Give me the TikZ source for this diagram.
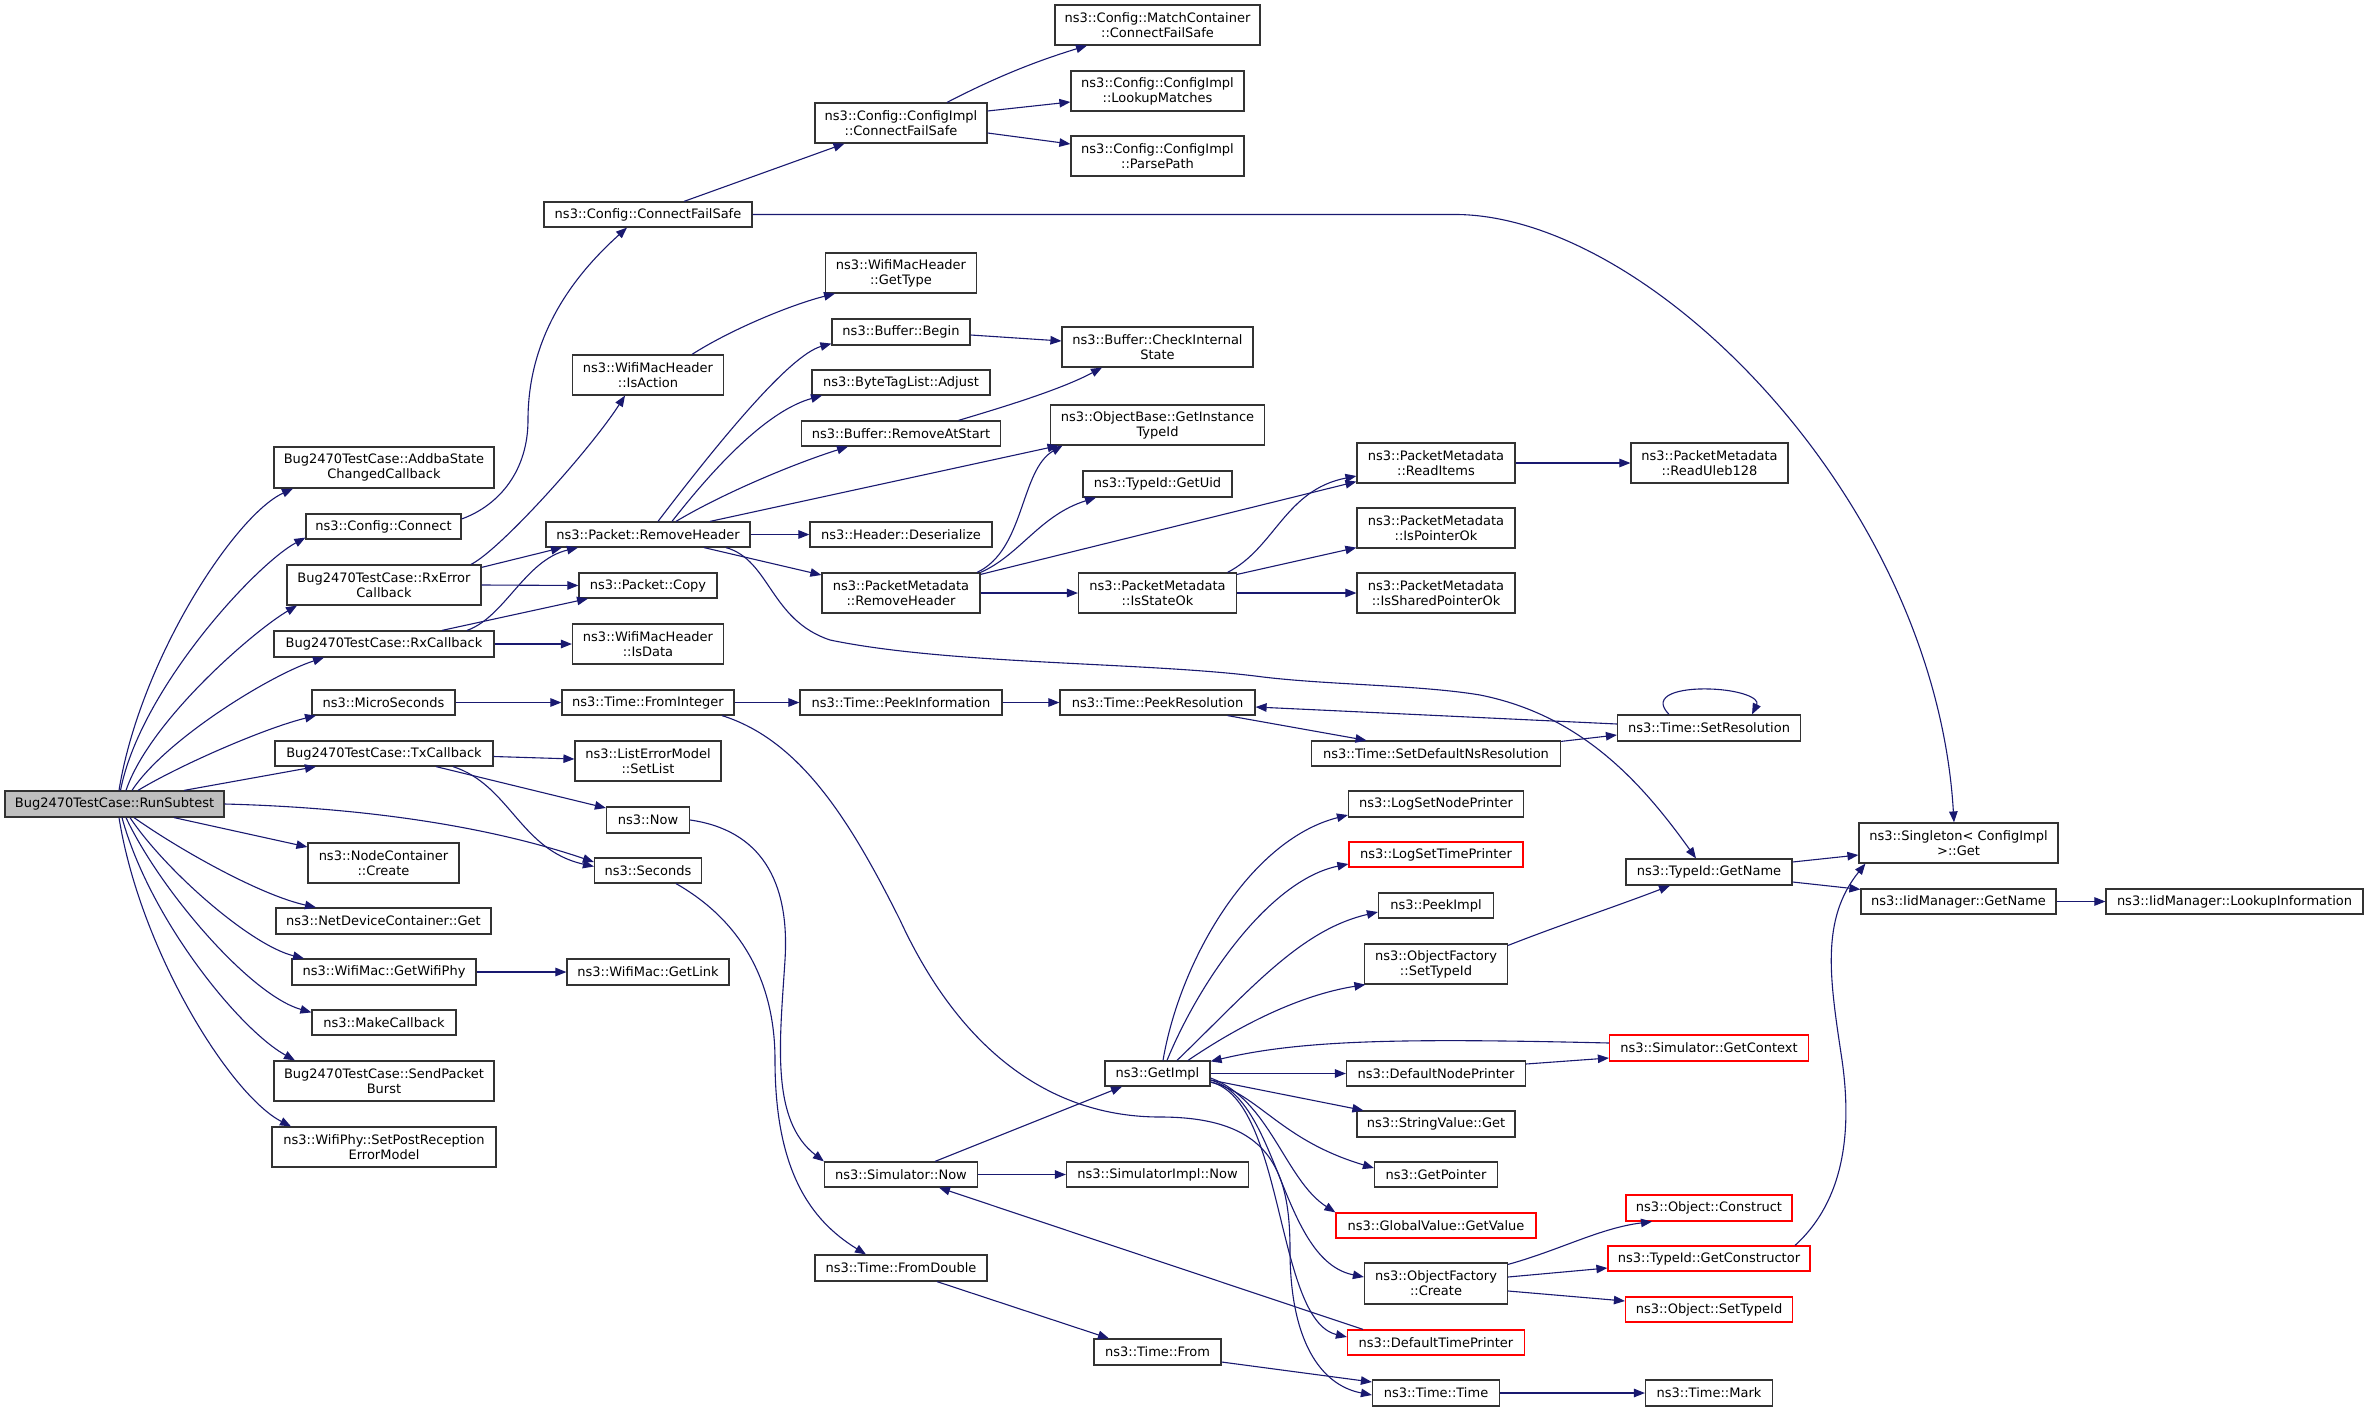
\documentclass[tikz,border=0pt]{standalone}
\usepackage{fontspec}
\setmainfont{DejaVu Sans}
\usetikzlibrary{arrows.meta}
\definecolor{edgec}{HTML}{191970}
\definecolor{bordc}{HTML}{333333}
\definecolor{rootfill}{HTML}{BFBFBF}
\definecolor{redc}{HTML}{FF0000}
\begin{document}
\begin{tikzpicture}[x=1pt,y=-1pt,
  box/.style={draw=bordc, line width=1.2pt, fill=white, inner sep=0pt, align=center,
    font=\fontsize{13}{15}\selectfont, text=black},
  redbox/.style={box, draw=redc},
  rootbox/.style={box, fill=rootfill},
  e/.style={draw=edgec, line width=1.1pt, -{Triangle[length=11pt,width=8.5pt]}}]
\path[use as bounding box] (0,0) rectangle (2368,1412);
% column 1
\node[rootbox, minimum width=219pt, minimum height=26pt] (run) at (114.5,804) {Bug2470TestCase::RunSubtest};
% column 2
\node[box, minimum width=220pt, minimum height=41pt] (addba) at (384,467.5) {Bug2470TestCase::AddbaState\\ChangedCallback};
\node[box, minimum width=155pt, minimum height=25pt] (cconn) at (383.5,526.5) {ns3::Config::Connect};
\node[box, minimum width=194pt, minimum height=40pt] (rxerr) at (384,585) {Bug2470TestCase::RxError\\Callback};
\node[box, minimum width=220pt, minimum height=26pt] (rxcb) at (384,644) {Bug2470TestCase::RxCallback};
\node[box, minimum width=143pt, minimum height=25pt] (micro) at (383.5,702.5) {ns3::MicroSeconds};
\node[box, minimum width=218pt, minimum height=25pt] (txcb) at (384,753.5) {Bug2470TestCase::TxCallback};
\node[box, minimum width=151pt, minimum height=40pt] (ncc) at (383.5,863) {ns3::NodeContainer\\::Create};
\node[box, minimum width=215pt, minimum height=26pt] (ndc) at (383.5,921) {ns3::NetDeviceContainer::Get};
\node[box, minimum width=184pt, minimum height=26pt] (gwp) at (384,972) {ns3::WifiMac::GetWifiPhy};
\node[box, minimum width=144pt, minimum height=25pt] (mcb) at (384,1022.5) {ns3::MakeCallback};
\node[box, minimum width=220pt, minimum height=40pt] (spb) at (384,1081) {Bug2470TestCase::SendPacket\\Burst};
\node[box, minimum width=224pt, minimum height=40pt] (spr) at (384,1147) {ns3::WifiPhy::SetPostReception\\ErrorModel};
% column 3
\node[box, minimum width=208pt, minimum height=25pt] (cfs) at (648,214.5) {ns3::Config::ConnectFailSafe};
\node[box, minimum width=151pt, minimum height=40pt] (isact) at (648,375) {ns3::WifiMacHeader\\::IsAction};
\node[box, minimum width=204pt, minimum height=25pt] (prh) at (648,534.5) {ns3::Packet::RemoveHeader};
\node[box, minimum width=138pt, minimum height=25pt] (pcopy) at (648,585.5) {ns3::Packet::Copy};
\node[box, minimum width=151pt, minimum height=40pt] (isdata) at (648,644) {ns3::WifiMacHeader\\::IsData};
\node[box, minimum width=172pt, minimum height=25pt] (fromint) at (648,702.5) {ns3::Time::FromInteger};
\node[box, minimum width=146pt, minimum height=40pt] (setlist) at (648,761) {ns3::ListErrorModel\\::SetList};
\node[box, minimum width=83pt, minimum height=26pt] (now) at (648,820) {ns3::Now};
\node[box, minimum width=107pt, minimum height=25pt] (secs) at (648,870.5) {ns3::Seconds};
\node[box, minimum width=162pt, minimum height=26pt] (getlink) at (648,972) {ns3::WifiMac::GetLink};
% column 4
\node[box, minimum width=172pt, minimum height=40pt] (cicfs) at (901,123) {ns3::Config::ConfigImpl\\::ConnectFailSafe};
\node[box, minimum width=151pt, minimum height=40pt] (gettype) at (901,273) {ns3::WifiMacHeader\\::GetType};
\node[box, minimum width=138pt, minimum height=26pt] (begin) at (901,332) {ns3::Buffer::Begin};
\node[box, minimum width=178pt, minimum height=25pt] (adjust) at (901,382.5) {ns3::ByteTagList::Adjust};
\node[box, minimum width=199pt, minimum height=25pt] (ras) at (901,433.5) {ns3::Buffer::RemoveAtStart};
\node[box, minimum width=182pt, minimum height=25pt] (hdes) at (901,534.5) {ns3::Header::Deserialize};
\node[box, minimum width=158pt, minimum height=40pt] (pmrh) at (901,593) {ns3::PacketMetadata\\::RemoveHeader};
\node[box, minimum width=202pt, minimum height=25pt] (peekinfo) at (901,702.5) {ns3::Time::PeekInformation};
\node[box, minimum width=153pt, minimum height=25pt] (simnow) at (901,1174.5) {ns3::Simulator::Now};
\node[box, minimum width=172pt, minimum height=26pt] (fromdbl) at (901,1268) {ns3::Time::FromDouble};
% column 5
\node[box, minimum width=205pt, minimum height=40pt] (match) at (1157.5,25) {ns3::Config::MatchContainer\\::ConnectFailSafe};
\node[box, minimum width=173pt, minimum height=40pt] (lookup) at (1157.5,91) {ns3::Config::ConfigImpl\\::LookupMatches};
\node[box, minimum width=173pt, minimum height=40pt] (parse) at (1157.5,156) {ns3::Config::ConfigImpl\\::ParsePath};
\node[box, minimum width=191pt, minimum height=40pt] (checkint) at (1157.5,347) {ns3::Buffer::CheckInternal\\State};
\node[box, minimum width=214pt, minimum height=40pt] (objbase) at (1157.5,425) {ns3::ObjectBase::GetInstance\\TypeId};
\node[box, minimum width=149pt, minimum height=26pt] (getuid) at (1157.5,484) {ns3::TypeId::GetUid};
\node[box, minimum width=158pt, minimum height=40pt] (isstate) at (1157.5,593) {ns3::PacketMetadata\\::IsStateOk};
\node[box, minimum width=195pt, minimum height=25pt] (peekres) at (1157.5,702.5) {ns3::Time::PeekResolution};
\node[box, minimum width=105pt, minimum height=25pt] (getimpl) at (1157.5,1073.5) {ns3::GetImpl};
\node[box, minimum width=182pt, minimum height=25pt] (simimplnow) at (1157.5,1174.5) {ns3::SimulatorImpl::Now};
\node[box, minimum width=127pt, minimum height=26pt] (timefrom) at (1157.5,1352) {ns3::Time::From};
% column 6
\node[box, minimum width=158pt, minimum height=40pt] (readitems) at (1436,463) {ns3::PacketMetadata\\::ReadItems};
\node[box, minimum width=158pt, minimum height=40pt] (ispointer) at (1436,528) {ns3::PacketMetadata\\::IsPointerOk};
\node[box, minimum width=158pt, minimum height=40pt] (isshared) at (1436,593) {ns3::PacketMetadata\\::IsSharedPointerOk};
\node[box, minimum width=249pt, minimum height=25pt] (setdef) at (1436,753.5) {ns3::Time::SetDefaultNsResolution};
\node[box, minimum width=175pt, minimum height=26pt] (lognode) at (1436,804) {ns3::LogSetNodePrinter};
\node[redbox, minimum width=174pt, minimum height=25pt] (logtime) at (1436,854.5) {ns3::LogSetTimePrinter};
\node[box, minimum width=115pt, minimum height=25pt] (peekimpl) at (1436,905.5) {ns3::PeekImpl};
\node[box, minimum width=143pt, minimum height=40pt] (ofsettype) at (1436,964) {ns3::ObjectFactory\\::SetTypeId};
\node[box, minimum width=179pt, minimum height=25pt] (defnode) at (1436,1073.5) {ns3::DefaultNodePrinter};
\node[box, minimum width=158pt, minimum height=26pt] (strget) at (1436,1124) {ns3::StringValue::Get};
\node[box, minimum width=123pt, minimum height=25pt] (getptr) at (1436,1174.5) {ns3::GetPointer};
\node[redbox, minimum width=200pt, minimum height=25pt] (gvget) at (1436,1225.5) {ns3::GlobalValue::GetValue};
\node[box, minimum width=143pt, minimum height=41pt] (ofcreate) at (1436,1283.5) {ns3::ObjectFactory\\::Create};
\node[redbox, minimum width=177pt, minimum height=25pt] (deftime) at (1436,1342.5) {ns3::DefaultTimePrinter};
\node[box, minimum width=127pt, minimum height=26pt] (ttime) at (1436,1393) {ns3::Time::Time};
% column 7
\node[box, minimum width=157pt, minimum height=40pt] (uleb) at (1709.5,463) {ns3::PacketMetadata\\::ReadUleb128};
\node[box, minimum width=183pt, minimum height=26pt] (setres) at (1709,728) {ns3::Time::SetResolution};
\node[box, minimum width=166pt, minimum height=26pt] (tgetname) at (1709,872) {ns3::TypeId::GetName};
\node[redbox, minimum width=199pt, minimum height=26pt] (getctx) at (1709,1048) {ns3::Simulator::GetContext};
\node[redbox, minimum width=166pt, minimum height=26pt] (construct) at (1709,1208) {ns3::Object::Construct};
\node[redbox, minimum width=202pt, minimum height=25pt] (getctor) at (1709,1258.5) {ns3::TypeId::GetConstructor};
\node[redbox, minimum width=167pt, minimum height=25pt] (objsettype) at (1709,1309.5) {ns3::Object::SetTypeId};
\node[box, minimum width=127pt, minimum height=26pt] (mark) at (1709,1393) {ns3::Time::Mark};
% column 8, 9
\node[box, minimum width=199pt, minimum height=40pt] (singleton) at (1958.5,843) {ns3::Singleton< ConfigImpl\\ >::Get};
\node[box, minimum width=195pt, minimum height=25pt] (iidgetname) at (1958.5,901.5) {ns3::IidManager::GetName};
\node[box, minimum width=257pt, minimum height=25pt] (lookupinfo) at (2234.5,901.5) {ns3::IidManager::LookupInformation};

% edges from RunSubtest
\draw[e] ([xshift=4.5pt]run.north) .. controls (140,660) and (235,515) .. ([xshift=-91pt]addba.south);
\draw[e] ([xshift=6pt]run.north) .. controls (140,690) and (255,565) .. ([yshift=2pt]cconn.south west);
\draw[e] ([xshift=11.5pt]run.north) .. controls (150,720) and (255,630) .. ([xshift=-87pt]rxerr.south);
\draw[e] ([xshift=17.5pt]run.north) .. controls (165,740) and (270,675) .. ([xshift=-60pt]rxcb.south);
\draw[e] ([xshift=23.5pt]run.north) .. controls (180,765) and (265,728) .. ([xshift=-67.5pt]micro.south);
\draw[e] ([xshift=69.5pt]run.north) -- ([xshift=-68pt]txcb.south);
\draw[e] (run.east) .. controls (380,808) and (500,830) .. ([yshift=8.5pt]secs.west);
\draw[e] ([xshift=59.5pt]run.south) -- ([yshift=16pt]ncc.west);
\draw[e] ([xshift=19.5pt]run.south) .. controls (180,850) and (260,895) .. ([xshift=-67.5pt]ndc.north);
\draw[e] ([xshift=15.5pt]run.south) .. controls (165,870) and (250,945) .. ([xshift=-80pt]gwp.north);
\draw[e] ([xshift=11.5pt]run.south) .. controls (160,890) and (250,995) .. ([yshift=-3pt]mcb.north west);
\draw[e] ([xshift=7.5pt]run.south) .. controls (150,920) and (240,1030) .. ([xshift=-89pt]spb.north);
\draw[e] ([xshift=4.5pt]run.south) .. controls (140,950) and (230,1095) .. ([xshift=-93pt]spr.north);
% config
\draw[e] ([yshift=7.5pt]cconn.east) .. controls (500,505) and (528,470) .. (528,420) .. controls (528,330) and (580,270) .. ([xshift=-21pt]cfs.south);
\draw[e] ([xshift=36pt]cfs.north) -- ([xshift=-56.5pt]cicfs.south);
\draw[e] (cfs.east) -- (1455,214.5) .. controls (1650,214.5) and (1935,500) .. ([xshift=-4.5pt]singleton.north);
\draw[e] ([xshift=46pt]cicfs.north) .. controls (1000,75) and (1040,60) .. ([xshift=-70.5pt]match.south);
\draw[e] ([yshift=12pt]cicfs.east) -- ([yshift=-11pt]lookup.west);
\draw[e] ([yshift=-10pt]cicfs.east) -- ([yshift=12pt]parse.west);
% rx callbacks
\draw[e] ([xshift=87pt]rxerr.north) .. controls (500,550) and (590,450) .. ([xshift=-23pt]isact.south);
\draw[e] ([yshift=-3pt]rxerr.north east) -- ([xshift=-86pt]prh.south);
\draw[e] ([xshift=83pt]rxcb.north) .. controls (505,617) and (525,560) .. ([xshift=-70pt]prh.south);
\draw[e] (rxerr.east) -- (pcopy.west);
\draw[e] ([xshift=58pt]rxcb.north) -- ([xshift=-60pt]pcopy.south);
\draw[e] (rxcb.east) -- (isdata.west);
\draw[e] ([xshift=44pt]isact.north) .. controls (730,330) and (790,305) .. ([xshift=-66pt]gettype.south);
\draw[e] (micro.east) -- (fromint.west);
\draw[e] ([yshift=-3pt]txcb.east) -- ([yshift=2pt]setlist.west);
\draw[e] ([xshift=52pt]txcb.south) -- ([yshift=12pt]now.west);
\draw[e] ([xshift=69pt]txcb.south) .. controls (510,785) and (520,850) .. ([yshift=4pt]secs.west);
% packet remove header
\draw[e] ([xshift=10pt]prh.north) .. controls (720,440) and (790,355) .. ([yshift=2pt]begin.south west);
\draw[e] ([xshift=24pt]prh.north) .. controls (720,460) and (770,410) .. ([xshift=-79pt]adjust.south);
\draw[e] ([xshift=28pt]prh.north) .. controls (720,495) and (790,465) .. ([xshift=-53pt]ras.south);
\draw[e] ([xshift=62pt]prh.north) -- ([xshift=-99pt]objbase.south);
\draw[e] (prh.east) -- (hdes.west);
\draw[e] ([xshift=56pt]prh.south) -- ([yshift=18pt]pmrh.west);
\draw[e] ([xshift=78pt]prh.south) .. controls (770,560) and (770,620) .. (830,640) .. controls (950,665) and (1150,662) .. (1263,677) .. controls (1330,685) and (1420,685) .. (1480,695) .. controls (1580,715) and (1640,780) .. ([xshift=-13pt]tgetname.north);
\draw[e] ([yshift=-3pt]begin.east) -- ([yshift=6pt]checkint.west);
\draw[e] ([xshift=57.5pt]ras.north) .. controls (1000,408) and (1060,390) .. ([xshift=-55.5pt]checkint.south);
% packet metadata
\draw[e] ([xshift=76pt]pmrh.north) .. controls (1025,550) and (1020,470) .. ([xshift=-95pt]objbase.south);
\draw[e] (pmrh.north east) .. controls (1020,555) and (1040,515) .. ([xshift=-61.5pt]getuid.south);
\draw[e] ([yshift=-2pt]pmrh.north east) -- ([yshift=2pt]readitems.south west);
\draw[e] (pmrh.east) -- (isstate.west);
\draw[e] ([xshift=70pt]isstate.north) .. controls (1275,548) and (1285,490) .. ([yshift=-13pt]readitems.west);
\draw[e] ([yshift=-2pt]isstate.north east) -- ([yshift=1pt]ispointer.south west);
\draw[e] (isstate.east) -- (isshared.west);
\draw[e] (readitems.east) -- (uleb.west);
% time
\draw[e] (fromint.east) -- (peekinfo.west);
\draw[e] (peekinfo.east) -- (peekres.west);
\draw[e] ([xshift=70pt]peekres.south) -- ([xshift=-69.5pt]setdef.north);
\draw[e] ([yshift=-1pt]setdef.north east) -- ([yshift=-7pt]setres.west);
\draw[e] ([yshift=4pt]setres.west) -- ([yshift=-4.5pt]peekres.east);
\draw[e] ([xshift=-40pt]setres.north) .. controls (1650,695) and (1680,688) .. (1710,689) .. controls (1740,690) and (1760,698) .. ([xshift=43pt]setres.north);
\draw[e] ([xshift=74pt]fromint.south) .. controls (800,740) and (850,820) .. (900,920) .. controls (960,1050) and (1050,1117) .. (1160,1117) .. controls (1270,1117) and (1290,1170) .. (1290,1250) .. controls (1290,1340) and (1320,1385) .. ([yshift=-2pt]ttime.west);
\draw[e] (now.east) .. controls (760,830) and (790,880) .. (785,960) .. controls (780,1040) and (770,1120) .. (simnow.north west);
\draw[e] ([xshift=28pt]secs.south) .. controls (740,920) and (775,980) .. (775,1060) .. controls (775,1170) and (810,1220) .. ([xshift=-35pt]fromdbl.north);
\draw[e] ([xshift=34pt]simnow.north) -- ([xshift=-35.5pt]getimpl.south);
\draw[e] (simnow.east) -- (simimplnow.west);
\draw[e] ([xshift=-73pt]deftime.north) -- ([xshift=38pt]simnow.south);
\draw[e] ([xshift=36pt]fromdbl.south) -- ([xshift=-48.5pt]timefrom.north);
\draw[e] ([yshift=-10pt]timefrom.east) -- ([yshift=11pt]ttime.west);
\draw[e] (ttime.east) -- (mark.west);
% GetImpl
\draw[e] ([xshift=5.5pt]getimpl.north) .. controls (1180,960) and (1250,840) .. ([yshift=-11pt]lognode.west);
\draw[e] ([xshift=9.5pt]getimpl.north) .. controls (1200,980) and (1270,880) .. ([yshift=-9.5pt]logtime.west);
\draw[e] ([xshift=19.5pt]getimpl.north) .. controls (1250,990) and (1300,930) .. ([yshift=-6.5pt]peekimpl.west);
\draw[e] ([xshift=30.5pt]getimpl.north) .. controls (1240,1025) and (1300,995) .. ([xshift=1.5pt]ofsettype.south west);
\draw[e] (getimpl.east) -- (defnode.west);
\draw[e] ([yshift=-6.5pt]getimpl.east) -- ([xshift=7pt]strget.north west);
\draw[e] ([yshift=-8.5pt]getimpl.east) .. controls (1260,1095) and (1280,1140) .. ([yshift=6.5pt]getptr.west);
\draw[e] ([yshift=-4.5pt]getimpl.east) .. controls (1270,1100) and (1285,1180) .. (gvget.north west);
\draw[e] ([yshift=-6.5pt]getimpl.east) .. controls (1280,1100) and (1280,1260) .. ([yshift=6.5pt]ofcreate.west);
\draw[e] ([yshift=-8.5pt]getimpl.east) .. controls (1285,1100) and (1275,1320) .. ([yshift=5.5pt]deftime.west);
\draw[e] ([yshift=9.5pt]defnode.east) -- ([yshift=-10pt]getctx.west);
\draw[e] ([yshift=5pt]getctx.west) .. controls (1400,1038) and (1300,1040) .. ([yshift=-1pt]getimpl.north east);
\draw[e] ([yshift=-2pt]ofsettype.north east) .. controls (1560,925) and (1620,905) .. ([xshift=-39pt]tgetname.south);
\draw[e] ([yshift=-2pt]ofcreate.north east) .. controls (1560,1250) and (1600,1228) .. ([xshift=-57pt]construct.south);
\draw[e] ([yshift=6.5pt]ofcreate.east) -- ([yshift=-9.5pt]getctor.west);
\draw[e] ([yshift=-7.5pt]ofcreate.east) -- ([yshift=8.5pt]objsettype.west);
\draw[e] ([xshift=86pt]getctor.north) .. controls (1845,1200) and (1852,1130) .. (1842,1060) .. controls (1830,980) and (1820,920) .. ([xshift=7pt]singleton.south west);
\draw[e] ([yshift=10pt]tgetname.east) -- ([yshift=-12pt]singleton.west);
\draw[e] ([yshift=-10pt]tgetname.east) -- ([yshift=-1pt]iidgetname.north west);
\draw[e] (iidgetname.east) -- (lookupinfo.west);
\draw[e] (gwp.east) -- (getlink.west);
\end{tikzpicture}
\end{document}
